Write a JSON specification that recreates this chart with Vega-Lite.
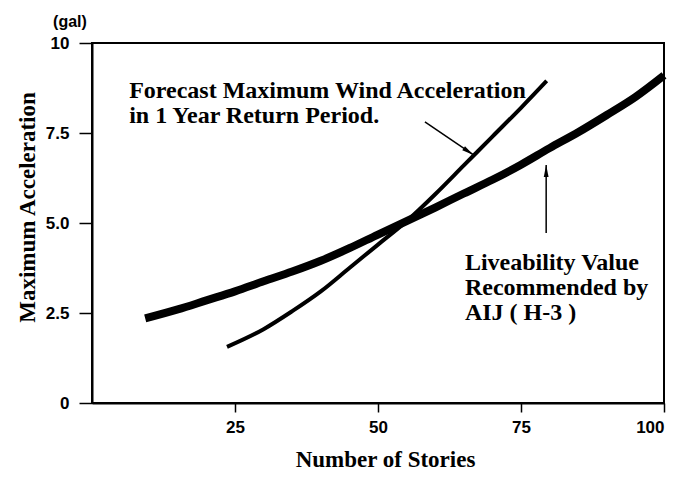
{
  "$schema": "https://vega.github.io/schema/vega-lite/v6.json",
  "width": 572,
  "height": 360,
  "autosize": "none",
  "padding": {"left": 92, "top": 43, "right": 27, "bottom": 76},
  "background": "white",
  "config": {
    "view": {"stroke": "black", "strokeWidth": 2},
    "axis": {"grid": false, "domainColor": "black", "domainWidth": 2, "tickColor": "black", "tickWidth": 1.5, "labelColor": "black", "titleColor": "black", "labelFont": "Liberation Sans", "labelFontSize": 17, "labelFontWeight": "bold", "titleFont": "Liberation Serif", "titleFontSize": 23, "titleFontWeight": "bold"}
  },
  "datasets": {
    "curves": [
      {"series": "Liveability", "stories": 9.3, "accel": 2.35},
      {"series": "Liveability", "stories": 15, "accel": 2.6},
      {"series": "Liveability", "stories": 20, "accel": 2.85},
      {"series": "Liveability", "stories": 25, "accel": 3.1},
      {"series": "Liveability", "stories": 30, "accel": 3.38},
      {"series": "Liveability", "stories": 35, "accel": 3.65},
      {"series": "Liveability", "stories": 40, "accel": 3.95},
      {"series": "Liveability", "stories": 45, "accel": 4.3},
      {"series": "Liveability", "stories": 50, "accel": 4.68},
      {"series": "Liveability", "stories": 55, "accel": 5.05},
      {"series": "Liveability", "stories": 60, "accel": 5.43},
      {"series": "Liveability", "stories": 65, "accel": 5.82},
      {"series": "Liveability", "stories": 70, "accel": 6.2},
      {"series": "Liveability", "stories": 75, "accel": 6.62},
      {"series": "Liveability", "stories": 80, "accel": 7.08},
      {"series": "Liveability", "stories": 85, "accel": 7.52},
      {"series": "Liveability", "stories": 90, "accel": 8.0},
      {"series": "Liveability", "stories": 95, "accel": 8.5},
      {"series": "Liveability", "stories": 100, "accel": 9.1},
      {"series": "Forecast", "stories": 23.6, "accel": 1.56},
      {"series": "Forecast", "stories": 30, "accel": 2.05},
      {"series": "Forecast", "stories": 35, "accel": 2.55},
      {"series": "Forecast", "stories": 40, "accel": 3.1},
      {"series": "Forecast", "stories": 45, "accel": 3.75},
      {"series": "Forecast", "stories": 50, "accel": 4.4},
      {"series": "Forecast", "stories": 55, "accel": 5.05},
      {"series": "Forecast", "stories": 60, "accel": 5.8},
      {"series": "Forecast", "stories": 65, "accel": 6.6},
      {"series": "Forecast", "stories": 70, "accel": 7.4},
      {"series": "Forecast", "stories": 75, "accel": 8.2},
      {"series": "Forecast", "stories": 79.5, "accel": 8.95}
    ],
    "arrows": [
      {"id": "forecast", "x": 58.2, "y": 7.81, "x2": 66.7, "y2": 6.89},
      {"id": "live", "x": 79.4, "y": 4.72, "x2": 79.4, "y2": 6.61}
    ],
    "notes": [
      {"id": "forecast", "x": 6.5, "y": 8.47, "text": ["Forecast Maximum Wind Acceleration", "in 1 Year Return Period."]},
      {"id": "live", "x": 65.2, "y": 3.69, "text": ["Liveability Value", "Recommended by", "AIJ ( H-3 )"]}
    ],
    "unit": [
      {"x": -3.85, "y": 10.58, "text": "(gal)"}
    ]
  },
  "encoding": {
    "x": {"field": "stories", "type": "quantitative", "scale": {"domain": [0, 100], "nice": false, "zero": false},
      "axis": {"values": [25, 50, 75, 100], "tickSize": 9, "labelPadding": 7, "title": "Number of Stories", "titleX": 293, "titleY": 56, "titleBaseline": "middle", "titleAnchor": "middle"}},
    "y": {"field": "accel", "type": "quantitative", "scale": {"domain": [0, 10], "nice": false},
      "axis": {"values": [0, 2.5, 5, 7.5, 10], "labelExpr": "datum.value == 0 ? '0' : datum.value == 10 ? '10' : format(datum.value, '.1f')", "tickSize": 13, "labelPadding": 10, "title": "Maximum Acceleration", "titleX": -65, "titleY": 164, "titleAngle": -90, "titleBaseline": "middle", "titleAlign": "center"}}
  },
  "layer": [
    {
      "data": {"name": "curves"},
      "transform": [{"filter": "datum.series == 'Liveability'"}],
      "mark": {"type": "line", "color": "black", "strokeWidth": 8, "strokeCap": "butt", "interpolate": "monotone"}
    },
    {
      "data": {"name": "curves"},
      "transform": [{"filter": "datum.series == 'Forecast'"}],
      "mark": {"type": "line", "color": "black", "strokeWidth": 4, "strokeCap": "butt", "interpolate": "monotone"}
    },
    {
      "data": {"name": "arrows"},
      "mark": {"type": "rule", "color": "black", "strokeWidth": 1.5},
      "encoding": {
        "x": {"field": "x", "type": "quantitative"},
        "y": {"field": "y", "type": "quantitative"},
        "x2": {"field": "x2"},
        "y2": {"field": "y2"}
      }
    },
    {
      "data": {"name": "arrows"},
      "transform": [{"filter": "datum.id == 'forecast'"}],
      "mark": {"type": "point", "filled": true, "color": "black", "opacity": 1, "shape": "M0,0L0.4,2L-0.4,2Z", "size": 144, "angle": 124.5},
      "encoding": {
        "x": {"field": "x2", "type": "quantitative"},
        "y": {"field": "y2", "type": "quantitative"}
      }
    },
    {
      "data": {"name": "arrows"},
      "transform": [{"filter": "datum.id == 'live'"}],
      "mark": {"type": "point", "filled": true, "color": "black", "opacity": 1, "shape": "M0,0L0.4,2L-0.4,2Z", "size": 144, "angle": 0},
      "encoding": {
        "x": {"field": "x2", "type": "quantitative"},
        "y": {"field": "y2", "type": "quantitative"}
      }
    },
    {
      "data": {"name": "notes"},
      "mark": {"type": "text", "align": "left", "baseline": "alphabetic", "font": "Liberation Serif", "fontSize": 24, "fontWeight": "bold", "lineHeight": 25, "color": "black"},
      "encoding": {
        "x": {"field": "x", "type": "quantitative"},
        "y": {"field": "y", "type": "quantitative"},
        "text": {"field": "text"}
      }
    },
    {
      "data": {"name": "unit"},
      "mark": {"type": "text", "align": "center", "baseline": "middle", "font": "Liberation Sans", "fontSize": 16, "fontWeight": "bold", "color": "black", "clip": false},
      "encoding": {
        "x": {"field": "x", "type": "quantitative"},
        "y": {"field": "y", "type": "quantitative"},
        "text": {"field": "text"}
      }
    }
  ]
}
